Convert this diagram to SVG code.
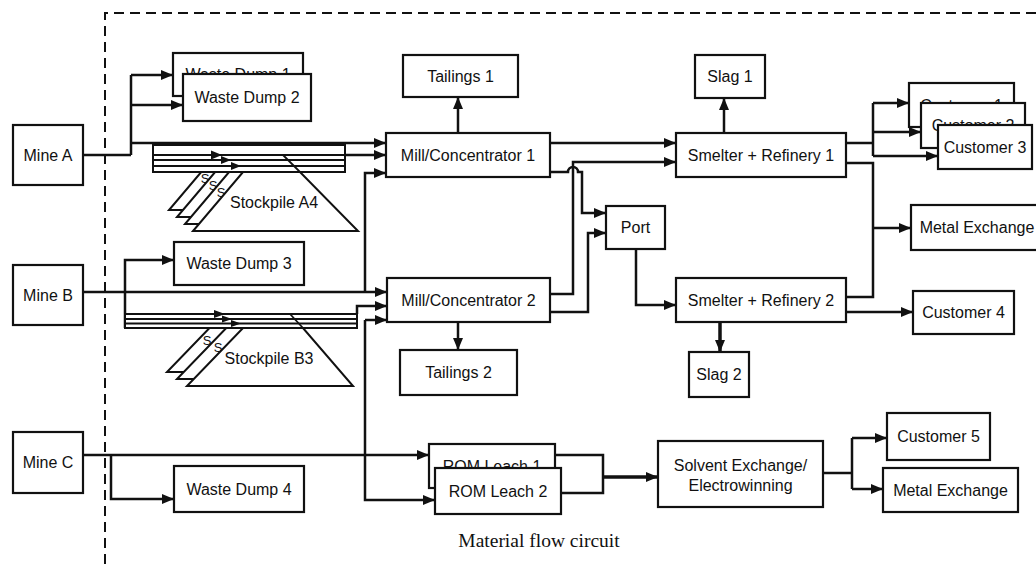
<svg xmlns="http://www.w3.org/2000/svg" width="1036" height="564" viewBox="0 0 1036 564">
<defs>
<style>
.box{fill:#fff;stroke:#111;stroke-width:2.2}
.lbl{font-family:"Liberation Sans",Arial,Helvetica,sans-serif;font-size:16px;fill:#111;text-anchor:middle;dominant-baseline:central}
.s{font-family:"Liberation Sans",Arial,Helvetica,sans-serif;font-size:13px;fill:#111;text-anchor:middle;dominant-baseline:central}
.ln{fill:none;stroke:#111;stroke-width:2.5}
.thk{stroke-width:3.5}
.arr{marker-end:url(#ah)}
.pile{fill:#fff;stroke:#111;stroke-width:2}
.stk{fill:none;stroke:#111;stroke-width:1.8}
.tri{fill:#111}
</style>
<marker id="ah" viewBox="0 0 12 10" refX="12" refY="5" markerWidth="12" markerHeight="10" orient="auto" markerUnits="userSpaceOnUse"><path d="M0,0 L12,5 L0,10 z" fill="#111"/></marker>
</defs>
<rect width="1036" height="564" fill="#fff"/>
<path d="M105,564 V13 H1036" fill="none" stroke="#111" stroke-width="2" stroke-dasharray="10 6"/>

<g id="connectors">
<path class="ln" d="M83,155 H131 M131,75 V155"/>
<path class="ln arr" d="M131,75 H173"/>
<path class="ln arr" d="M131,105 H183"/>
<path class="ln arr" d="M131,143 H386"/>
<path class="ln arr" d="M345,155 H386"/>
<path class="ln arr" d="M83,292 H387"/>
<path class="ln arr" d="M365,292 V173 H386"/>
<path class="ln arr" d="M125,328 V260 H174"/>
<path class="ln arr" d="M357,314 V306 H387"/>
<path class="ln arr" d="M83,455 H429"/>
<path class="ln arr" d="M111,455 V499 H174"/>
<path class="ln arr" d="M365,320 H387"/>
<path class="ln arr" d="M365,320 V500 H435"/>
<path class="ln arr" d="M458,133 V97"/>
<path class="ln arr" d="M458,322 V350"/>
<path class="ln arr" d="M550,143 H676"/>
<path class="ln arr" d="M550,172 H568 A5,5 0 0 1 578,172 H582 V213 H606"/>
<path class="ln arr" d="M550,294 H573 V162 H676"/>
<path class="ln arr" d="M550,312 H588 V233 H606"/>
<path class="ln arr" d="M636,249 V305 H676"/>
<path class="ln arr" d="M724,133 V98"/>
<path class="ln thk arr" d="M720,322 V352"/>
<path class="ln" d="M846,143 H873 M873,103 V156"/>
<path class="ln arr" d="M873,103 H909"/>
<path class="ln arr" d="M873,132 H921"/>
<path class="ln arr" d="M873,156 H938"/>
<path class="ln" d="M846,163 H873 V297 H846"/>
<path class="ln arr" d="M873,228 H911"/>
<path class="ln arr" d="M846,312 H913"/>
<path class="ln" d="M555,455 H603 V493 H561"/>
<path class="ln thk arr" d="M603,477 H658"/>
<path class="ln" d="M823,473 H852 M852,438 V489"/>
<path class="ln arr" d="M852,438 H887"/>
<path class="ln arr" d="M852,489 H883"/>
</g>

<g id="mineA"><rect class="box" x="13" y="125" width="70" height="60"/><text class="lbl" x="48" y="155">Mine A</text></g>
<g id="mineB"><rect class="box" x="13" y="265" width="70" height="60"/><text class="lbl" x="48" y="295">Mine B</text></g>
<g id="mineC"><rect class="box" x="13" y="432" width="70" height="61"/><text class="lbl" x="48" y="462">Mine C</text></g>

<g id="wasteDump1"><rect class="box" x="173" y="53" width="130" height="43"/><text class="lbl" x="238" y="74.5">Waste Dump 1</text></g>
<g id="wasteDump2"><rect class="box" x="183" y="74" width="128" height="47"/><text class="lbl" x="247" y="97.5">Waste Dump 2</text></g>
<g id="wasteDump3"><rect class="box" x="174" y="242" width="130" height="43"/><text class="lbl" x="239" y="263.5">Waste Dump 3</text></g>
<g id="wasteDump4"><rect class="box" x="174" y="466" width="130" height="46"/><text class="lbl" x="239" y="489">Waste Dump 4</text></g>

<g id="stockpileA">
<polygon class="pile" points="219,151 269,151 320,210 169,210"/>
<text class="s" x="205" y="178">S</text>
<polygon class="pile" points="227,158 277,158 330,217 177,217"/>
<text class="s" x="213" y="185">S</text>
<polygon class="pile" points="235,165 285,165 340,224 185,224"/>
<text class="s" x="221" y="192">S</text>
<polygon class="pile" points="243,172 300,172 358,231 193,231"/>
<text class="lbl" x="274" y="202">Stockpile A4</text>
<rect x="153" y="145" width="192" height="27" fill="#fff" stroke="#111" stroke-width="2"/>
<path class="stk" d="M153,155 H345 M153,160 H345 M153,166 H345"/>
<path class="stk" d="M283,155 L300,172"/>
<polygon class="tri" points="211,150.5 222,155 211,159.5"/>
<polygon class="tri" points="221,156 231,160 221,164"/>
<polygon class="tri" points="231,162 241,166 231,170"/>
</g>

<g id="stockpileB">
<polygon class="pile" points="223,314 275,314 325,372 167,372"/>
<text class="s" x="207" y="340">S</text>
<polygon class="pile" points="233,321 285,321 335,379 177,379"/>
<text class="s" x="218" y="347">S</text>
<polygon class="pile" points="243,328 303,328 353,386 187,386"/>
<text class="lbl" x="269" y="358">Stockpile B3</text>
<rect x="125" y="314" width="232" height="14" fill="#fff" stroke="#111" stroke-width="2"/>
<path class="stk" d="M125,319 H357 M125,323.5 H357"/>
<path class="stk" d="M290,314 L303,328"/>
<polygon class="tri" points="214,310 225,314 214,318"/>
<polygon class="tri" points="222,315.5 232,319 222,322.5"/>
<polygon class="tri" points="231,320 241,323.5 231,327"/>
</g>

<g id="mill1"><rect class="box" x="386" y="133" width="164" height="44"/><text class="lbl" x="468" y="155">Mill/Concentrator 1</text></g>
<g id="mill2"><rect class="box" x="387" y="278" width="163" height="44"/><text class="lbl" x="468.5" y="300">Mill/Concentrator 2</text></g>
<g id="tailings1"><rect class="box" x="403" y="55" width="115" height="42"/><text class="lbl" x="460.5" y="76">Tailings 1</text></g>
<g id="tailings2"><rect class="box" x="400" y="350" width="117" height="45"/><text class="lbl" x="458.5" y="372.5">Tailings 2</text></g>
<g id="port"><rect class="box" x="606" y="206" width="59" height="43"/><text class="lbl" x="635.5" y="227.5">Port</text></g>
<g id="smelter1"><rect class="box" x="676" y="133" width="170" height="44"/><text class="lbl" x="761" y="155">Smelter + Refinery 1</text></g>
<g id="smelter2"><rect class="box" x="676" y="278" width="170" height="44"/><text class="lbl" x="761" y="300">Smelter + Refinery 2</text></g>
<g id="slag1"><rect class="box" x="695" y="55" width="70" height="43"/><text class="lbl" x="730" y="76.5">Slag 1</text></g>
<g id="slag2"><rect class="box" x="689" y="352" width="60" height="45"/><text class="lbl" x="719" y="374.5">Slag 2</text></g>
<g id="customer1"><rect class="box" x="909" y="83" width="105" height="44"/><text class="lbl" x="961.5" y="105">Customer 1</text></g>
<g id="customer2"><rect class="box" x="921" y="103" width="104" height="45"/><text class="lbl" x="973" y="125.5">Customer 2</text></g>
<g id="customer3"><rect class="box" x="938" y="125" width="94" height="44"/><text class="lbl" x="985" y="147">Customer 3</text></g>
<g id="metalExchange1"><rect class="box" x="911" y="205" width="133" height="45"/><text class="lbl" x="977" y="227.5">Metal Exchange</text></g>
<g id="customer4"><rect class="box" x="913" y="291" width="101" height="43"/><text class="lbl" x="963.5" y="312.5">Customer 4</text></g>
<g id="romLeach1"><rect class="box" x="429" y="444" width="126" height="44"/><text class="lbl" x="492" y="466">ROM Leach 1</text></g>
<g id="romLeach2"><rect class="box" x="435" y="468" width="126" height="46"/><text class="lbl" x="498" y="491">ROM Leach 2</text></g>
<g id="sxew"><rect class="box" x="658" y="441" width="165" height="66"/><text class="lbl" x="740.5" y="465">Solvent Exchange/</text><text class="lbl" x="740.5" y="485">Electrowinning</text></g>
<g id="customer5"><rect class="box" x="887" y="413" width="103" height="47"/><text class="lbl" x="938.5" y="436.5">Customer 5</text></g>
<g id="metalExchange2"><rect class="box" x="883" y="468" width="135" height="44"/><text class="lbl" x="950.5" y="490">Metal Exchange</text></g>

<text x="539" y="547" font-family="'Liberation Serif','Times New Roman',serif" font-size="19.5" fill="#111" text-anchor="middle">Material flow circuit</text>
</svg>
